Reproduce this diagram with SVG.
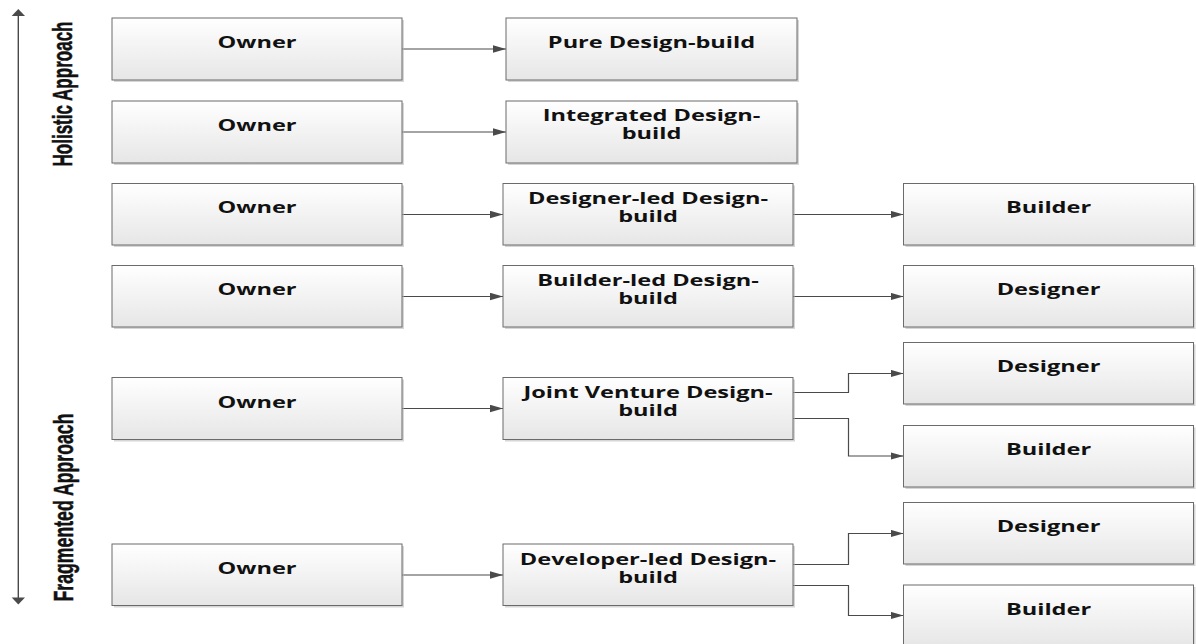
<svg xmlns="http://www.w3.org/2000/svg" width="1196" height="644" viewBox="0 0 1196 644">
  <style>
    .box { fill: url(#boxFill); stroke: #6b6b6b; stroke-width: 1; }
    .shadow { fill: #b4b4b4; opacity: 0.55; }
    .t { font-family: "Open Sans", "Liberation Sans", sans-serif; font-weight: 700; font-size: 15.5px; fill: #111111; text-anchor: middle; }
    .axis-label { font-family: "Liberation Sans Narrow", "Liberation Sans", sans-serif; font-weight: 700; font-size: 18.5px; fill: #111111; stroke: #111111; stroke-width: 0.35; text-anchor: middle; }
    .conn { fill: none; stroke: #4a4a4a; stroke-width: 1.2; marker-end: url(#arrow); }
    .axis { fill: none; stroke: #4a4a4a; stroke-width: 1.4; }
    .head { fill: #4a4a4a; }
  </style>
  <defs>
    <linearGradient id="boxFill" x1="0" y1="0" x2="0" y2="1">
      <stop offset="0" stop-color="#ffffff"/>
      <stop offset="1" stop-color="#e6e6e6"/>
    </linearGradient>
    <marker id="arrow" markerUnits="userSpaceOnUse" markerWidth="14" markerHeight="8" refX="13" refY="3.75" orient="auto">
      <path d="M0,0 L13,3.75 L0,7.5 z" fill="#4a4a4a"/>
    </marker>
  </defs>

  <rect width="1196" height="644" fill="#ffffff"/>

  <!-- vertical scale: holistic (top) to fragmented (bottom) -->
  <g id="axis">
    <line class="axis" x1="18.3" y1="14" x2="18.3" y2="599"/>
    <polygon class="head" points="18.3,9 11.7,16 25,16"/>
    <polygon class="head" points="18.3,604.5 11.7,597.5 25,597.5"/>
    <text class="axis-label" textLength="145" lengthAdjust="spacingAndGlyphs" transform="translate(72,94) scale(1.5,1) rotate(-90)">Holistic Approach</text>
    <text class="axis-label" textLength="188" lengthAdjust="spacingAndGlyphs" transform="translate(73,507.5) scale(1.5,1) rotate(-90)">Fragmented Approach</text>
  </g>

  <!-- connectors -->
  <g id="connectors">
    <path class="conn" d="M402,49 H506"/>
    <path class="conn" d="M402,132 H506"/>
    <path class="conn" d="M402,214.5 H503"/>
    <path class="conn" d="M793,214.5 H903.5"/>
    <path class="conn" d="M402,296.5 H503"/>
    <path class="conn" d="M793,296.5 H903.5"/>
    <path class="conn" d="M402,408.5 H503"/>
    <path class="conn" d="M793,392.5 H848.5 V373.5 H903.5"/>
    <path class="conn" d="M793,418.5 H848.5 V456 H903.5"/>
    <path class="conn" d="M402,575 H503"/>
    <path class="conn" d="M793,564.5 H848.5 V533.5 H903.5"/>
    <path class="conn" d="M793,585.5 H848.5 V615.5 H903.5"/>
  </g>

  <!-- row 1 -->
  <g id="owner1">
    <rect class="shadow" x="114" y="20" width="290" height="62"/>
    <rect class="box" x="112" y="18" width="290" height="62"/>
    <text class="t" transform="translate(257,48) scale(1.52,1)">Owner</text>
  </g>
  <g id="pure-design-build">
    <rect class="shadow" x="508" y="20" width="291" height="62"/>
    <rect class="box" x="506" y="18" width="291" height="62"/>
    <text class="t" transform="translate(651.5,48) scale(1.52,1)">Pure Design-build</text>
  </g>

  <!-- row 2 -->
  <g id="owner2">
    <rect class="shadow" x="114" y="103" width="290" height="62"/>
    <rect class="box" x="112" y="101" width="290" height="62"/>
    <text class="t" transform="translate(257,131) scale(1.52,1)">Owner</text>
  </g>
  <g id="integrated-design-build">
    <rect class="shadow" x="508" y="103" width="291" height="62"/>
    <rect class="box" x="506" y="101" width="291" height="62"/>
    <text class="t" transform="translate(651.5,121) scale(1.52,1)"><tspan x="0" y="0">Integrated Design-</tspan><tspan x="0" y="18.5">build</tspan></text>
  </g>

  <!-- row 3 -->
  <g id="owner3">
    <rect class="shadow" x="114" y="185.5" width="290" height="61.5"/>
    <rect class="box" x="112" y="183.5" width="290" height="61.5"/>
    <text class="t" transform="translate(257,213) scale(1.52,1)">Owner</text>
  </g>
  <g id="designer-led-design-build">
    <rect class="shadow" x="505" y="185.5" width="290" height="61.5"/>
    <rect class="box" x="503" y="183.5" width="290" height="61.5"/>
    <text class="t" transform="translate(648,204) scale(1.52,1)"><tspan x="0" y="0">Designer-led Design-</tspan><tspan x="0" y="18.5">build</tspan></text>
  </g>
  <g id="builder3">
    <rect class="shadow" x="905.5" y="185.5" width="290" height="61.5"/>
    <rect class="box" x="903.5" y="183.5" width="290" height="61.5"/>
    <text class="t" transform="translate(1048.5,213) scale(1.52,1)">Builder</text>
  </g>

  <!-- row 4 -->
  <g id="owner4">
    <rect class="shadow" x="114" y="267.5" width="290" height="61.5"/>
    <rect class="box" x="112" y="265.5" width="290" height="61.5"/>
    <text class="t" transform="translate(257,295) scale(1.52,1)">Owner</text>
  </g>
  <g id="builder-led-design-build">
    <rect class="shadow" x="505" y="267.5" width="290" height="61.5"/>
    <rect class="box" x="503" y="265.5" width="290" height="61.5"/>
    <text class="t" transform="translate(648,286) scale(1.52,1)"><tspan x="0" y="0">Builder-led Design-</tspan><tspan x="0" y="18.5">build</tspan></text>
  </g>
  <g id="designer4">
    <rect class="shadow" x="905.5" y="267.5" width="290" height="61.5"/>
    <rect class="box" x="903.5" y="265.5" width="290" height="61.5"/>
    <text class="t" transform="translate(1048.5,295) scale(1.52,1)">Designer</text>
  </g>

  <!-- row 5 -->
  <g id="owner5">
    <rect class="shadow" x="114" y="379.5" width="290" height="62"/>
    <rect class="box" x="112" y="377.5" width="290" height="62"/>
    <text class="t" transform="translate(257,407.5) scale(1.52,1)">Owner</text>
  </g>
  <g id="joint-venture-design-build">
    <rect class="shadow" x="505" y="379.5" width="290" height="62"/>
    <rect class="box" x="503" y="377.5" width="290" height="62"/>
    <text class="t" transform="translate(648,398) scale(1.52,1)"><tspan x="0" y="0">Joint Venture Design-</tspan><tspan x="0" y="18.5">build</tspan></text>
  </g>
  <g id="designer5">
    <rect class="shadow" x="905.5" y="344.5" width="290" height="61.5"/>
    <rect class="box" x="903.5" y="342.5" width="290" height="61.5"/>
    <text class="t" transform="translate(1048.5,372) scale(1.52,1)">Designer</text>
  </g>
  <g id="builder5">
    <rect class="shadow" x="905.5" y="427.5" width="290" height="61.5"/>
    <rect class="box" x="903.5" y="425.5" width="290" height="61.5"/>
    <text class="t" transform="translate(1048.5,455) scale(1.52,1)">Builder</text>
  </g>

  <!-- row 6 -->
  <g id="owner6">
    <rect class="shadow" x="114" y="546" width="290" height="61.5"/>
    <rect class="box" x="112" y="544" width="290" height="61.5"/>
    <text class="t" transform="translate(257,574) scale(1.52,1)">Owner</text>
  </g>
  <g id="developer-led-design-build">
    <rect class="shadow" x="505" y="546" width="290" height="61.5"/>
    <rect class="box" x="503" y="544" width="290" height="61.5"/>
    <text class="t" transform="translate(648,564.5) scale(1.52,1)"><tspan x="0" y="0">Developer-led Design-</tspan><tspan x="0" y="18.5">build</tspan></text>
  </g>
  <g id="designer6">
    <rect class="shadow" x="905.5" y="504.5" width="290" height="61.5"/>
    <rect class="box" x="903.5" y="502.5" width="290" height="61.5"/>
    <text class="t" transform="translate(1048.5,532) scale(1.52,1)">Designer</text>
  </g>
  <g id="builder6">
    <rect class="shadow" x="905.5" y="587" width="290" height="62"/>
    <rect class="box" x="903.5" y="585" width="290" height="62"/>
    <text class="t" transform="translate(1048.5,614.5) scale(1.52,1)">Builder</text>
  </g>
</svg>
